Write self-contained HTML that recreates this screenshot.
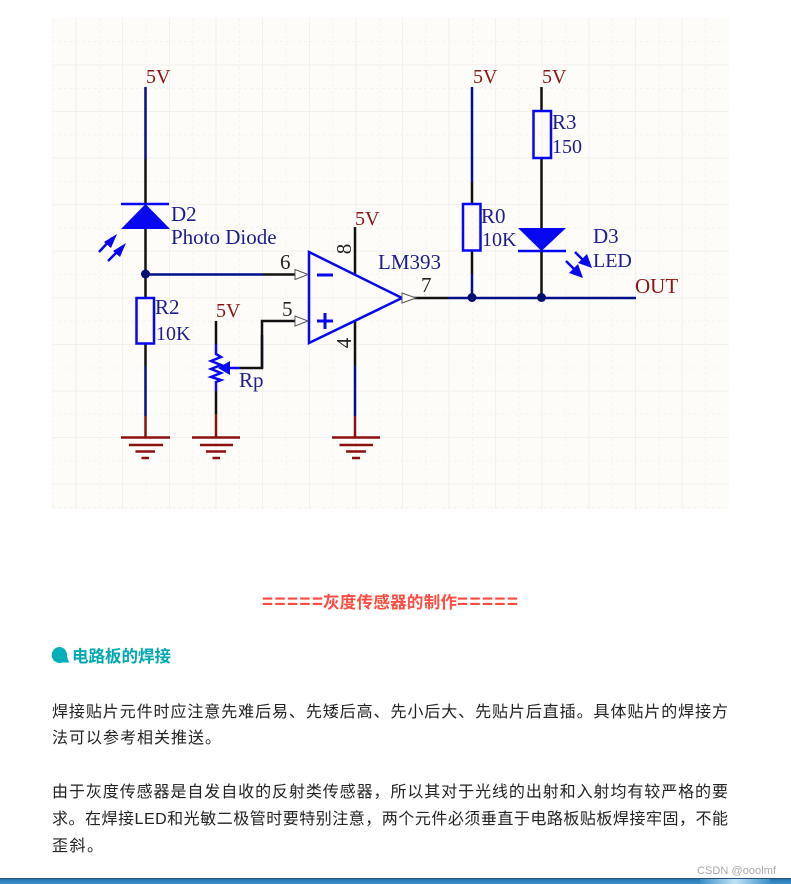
<!DOCTYPE html>
<html lang="zh"><head><meta charset="utf-8"><title>灰度传感器</title>
<style>
html,body{margin:0;padding:0;background:#fff;width:791px;height:884px;overflow:hidden}
svg{display:block}
.s{font-family:"Liberation Serif",serif;font-size:21px}
.n{font-size:20px}
.r{fill:#8b1414}.b{fill:#1c1c8e}.k{fill:#222}
.c{font-family:"Liberation Sans","Noto Sans CJK SC",sans-serif}
.p{font-size:16px;fill:#222}
.h{font-size:16.500px;font-weight:700}
.e{font-size:19px;font-weight:700}
</style></head><body>
<svg width="791" height="884" viewBox="0 0 791 884" xmlns="http://www.w3.org/2000/svg">
<defs>
<linearGradient id="bar" x1="0" y1="0" x2="0" y2="1"><stop offset="0" stop-color="#1d3f5f"/><stop offset=".25" stop-color="#2a7ab8"/><stop offset="1" stop-color="#3a8fc9"/></linearGradient>
<linearGradient id="hl" x1="0" y1="0" x2="1" y2="0"><stop offset="0" stop-color="#3a8fc9"/><stop offset=".5" stop-color="#bfe3f5"/><stop offset="1" stop-color="#3a8fc9"/></linearGradient>
</defs>
<rect x="52" y="18" width="677" height="491" fill="#fefcf8"/>
<g fill="none" stroke-width="1">
<g stroke="#f3f1ec"><path d="M52 65H729M52 111.500H729M52 158H729M52 204.500H729M52 251H729M52 298H729M52 344.500H729M52 391H729M52 437.500H729M52 484H729"/>
<path d="M76 18V509M122.500 18V509M169.500 18V509M216 18V509M262.500 18V509M309.500 18V509M356 18V509M402.500 18V509M449 18V509M495.500 18V509M542 18V509M589 18V509M635.500 18V509M682 18V509"/></g>
<g stroke="#f6f4ef" stroke-dasharray="3 3"><path d="M52 41.500H729M52 88.500H729M52 135H729M52 181.500H729M52 228H729M52 274.500H729M52 321H729M52 368H729M52 414H729M52 461H729M52 507.500H729"/>
<path d="M53 18V509M99.500 18V509M146 18V509M193 18V509M239.500 18V509M286 18V509M333 18V509M379.500 18V509M426 18V509M472.500 18V509M519 18V509M566 18V509M612.500 18V509M659 18V509M705.500 18V509"/></g>
</g>
<g fill="none" stroke-width="2.500">
<g stroke="#000f8a"><path d="M145.500 87V159M145.500 274.500H263M145.500 366V416M262 368V335M355 366V416M472 87V182M472 274V298M448 298H636"/></g>
<g stroke="#111"><path d="M145.500 159V204M145.500 228V298M263 274.500H296M145.500 343V366M216 321V344M216 391V414M240 368H262V321H296M355 227V275M355 321V366M472 182V204M472 251V274M402 298H448M541.500 87V111M541.500 158V228M541.500 251V298"/></g>
<g stroke="#8b1010"><path d="M145.500 416V437M216 414V437M355 416V437"/>
<path d="M121 437.500H170M129 445H163M135.500 451.500H155M141.500 458H149"/>
<path d="M192 437.500H240M200 445H233M206 451.500H226M212.500 458H220"/>
<path d="M332 437.500H380M339.500 445H373M346 451.500H366M352 458H360"/></g>
<g stroke="#0707f0">
<path d="M121 204H169"/>
<path d="M136.500 298H154V343.500H136.500Z"/>
<path d="M463 204H480.500V250.500H463Z"/>
<path d="M533.500 111H551V158H533.500Z"/>
<path d="M518 251H566"/>
<path d="M309 252V343L402 298Z"/>
<path d="M317 275H333M325 313V329M317 321H333" stroke-width="3"/>
<path d="M216 344V354L221 357L211 361L221 365L211 369L221 373L211 377L221 380L216 382V391"/>
<path d="M240 368H222"/>
<path d="M99 252L112 238M108 261L121 248M575 252L588 265M566 261L579 274"/>
</g>
</g>
<g fill="#0707f0">
<path d="M145.500 204L170 229H121Z"/>
<path d="M541.500 251L518 228H566Z"/>
<path d="M218 368L230 361V375Z"/>
<path d="M117 234L104 242L111 248ZM126 243L113 251L120 257Z"/>
<path d="M592 268L578 263L587 254ZM583 278L569 273L578 264Z"/>
</g>
<g fill="#000f70"><circle cx="145.500" cy="274" r="4.500"/><circle cx="472" cy="297.500" r="4.500"/><circle cx="541.500" cy="297.500" r="4.500"/></g>
<g fill="#fff" stroke="#555" stroke-width="1"><path d="M295 269.500L308 274.500L295 279.500Z"/><path d="M295 316L308 321L295 326Z"/><path d="M402 293L416 298L402 303Z"/></g>
<g class="s">
<text class="r n" x="146" y="83">5V</text><text class="r n" x="355" y="225">5V</text><text class="r n" x="216" y="317">5V</text><text class="r n" x="473" y="83">5V</text><text class="r n" x="542" y="83">5V</text><text class="r" x="635" y="293">OUT</text>
<text class="b" x="171" y="221">D2</text><text class="b" x="171" y="244">Photo Diode</text>
<text class="b" x="155" y="314">R2</text><text class="b n" x="156" y="340">10K</text><text class="b" x="239" y="387">Rp</text>
<text class="b" x="378" y="269">LM393</text>
<text class="b" x="481" y="223">R0</text><text class="b n" x="482" y="246">10K</text>
<text class="b" x="552" y="129">R3</text><text class="b n" x="552" y="153">150</text>
<text class="b" x="593" y="243">D3</text><text class="b n" x="593" y="267">LED</text>
<text class="k" x="280" y="269">6</text><text class="k" x="282" y="316">5</text><text class="k" x="421" y="292">7</text>
<text class="k" transform="translate(351 249) rotate(-90)" text-anchor="middle">8</text>
<text class="k" transform="translate(351 343) rotate(-90)" text-anchor="middle">4</text>
</g>
<g class="c">
<text class="e" x="262" y="608" fill="#ff4c41" textLength="61" lengthAdjust="spacing">=====</text>
<text class="h" x="323" y="608" fill="#ff4c41" textLength="134">灰度传感器的制作</text>
<text class="e" x="457" y="608" fill="#ff4c41" textLength="61" lengthAdjust="spacing">=====</text>
<path d="M60 647a8 8 0 1 0 2.500 15.500h7.500c-1.500-1-2.500-3-3-7a8 8 0 0 0-7-8.500z" fill="#00b0b9"/>
<text class="h" x="72" y="662" fill="#00a9b2" textLength="99">电路板的焊接</text>
<text class="p" x="52" y="717" textLength="676">焊接贴片元件时应注意先难后易、先矮后高、先小后大、先贴片后直插。具体贴片的焊接方</text>
<text class="p" x="52" y="743" textLength="169">法可以参考相关推送。</text>
<text class="p" x="52" y="797" textLength="676">由于灰度传感器是自发自收的反射类传感器，所以其对于光线的出射和入射均有较严格的要</text>
<text class="p" x="52" y="824" textLength="676">求。在焊接LED和光敏二极管时要特别注意，两个元件必须垂直于电路板贴板焊接牢固，不能</text>
<text class="p" x="52" y="851" textLength="51">歪斜。</text>
<text x="697" y="874" font-size="11" fill="#a8a8a8" textLength="79">CSDN @ooolmf</text>
</g>
<rect x="0" y="878" width="791" height="6" fill="url(#bar)"/>
<rect x="700" y="879" width="70" height="5" fill="url(#hl)"/>
</svg>
</body></html>
